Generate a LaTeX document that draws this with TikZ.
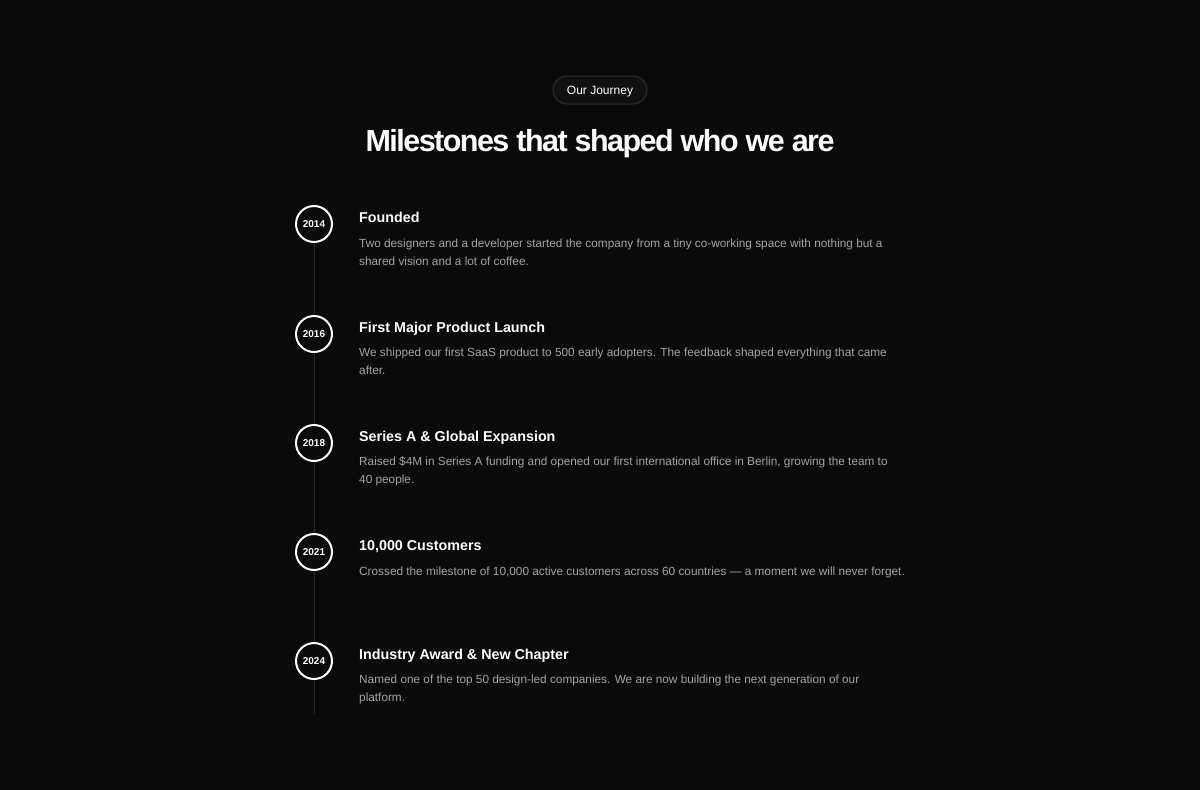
\documentclass[tikz,border=0pt]{standalone}
\usepackage{fontspec}
\setmainfont{Liberation Sans}
\definecolor{bg}{HTML}{0A0A0A}
\definecolor{pillfill}{HTML}{101010}
\definecolor{pillline}{HTML}{2A2A2A}
\definecolor{rail}{HTML}{2A2A2A}
\definecolor{desc}{HTML}{A3A3A3}
\tikzset{
  pill/.style={draw=pillline, fill=pillfill, line width=1pt, rounded corners=14pt, minimum width=94pt, minimum height=28pt, inner sep=0pt, text height=10pt, text depth=2pt, text=white, font=\fontsize{12}{14}\selectfont},
  yearnode/.style={circle, draw=white, line width=2pt, fill=bg, minimum size=36pt, inner sep=0pt, text=white, font=\bfseries\fontsize{10}{12}\selectfont},
  heading/.style={anchor=base west, inner sep=0pt, text=white, font=\bfseries\fontsize{14.3}{17}\selectfont},
  desctext/.style={anchor=base west, inner sep=0pt, text=desc, font=\fontsize{11.8}{14}\selectfont},
  railline/.style={draw=rail, line width=1pt},
}
\begin{document}
\begin{tikzpicture}[x=1pt,y=-1pt]
\fill[bg] (0,0) rectangle (1200,790);
\useasboundingbox (0,0) rectangle (1200,790);
\node[pill] (tag) at (600,90) {Our Journey};
\node[anchor=base, inner sep=0pt, text=white, font=\bfseries\fontsize{30.5}{36}\selectfont\addfontfeatures{LetterSpace=-5}] (title) at (600,151) {Milestones that shaped who we are};
\coordinate (railend) at (314,714);
\node[yearnode] (y1) at (314,224) {2014};
\node[yearnode] (y2) at (314,334) {2016};
\node[yearnode] (y3) at (314,443) {2018};
\node[yearnode] (y4) at (314,552) {2021};
\node[yearnode] (y5) at (314,661) {2024};
\draw[railline] (y1) -- (y2);
\draw[railline] (y2) -- (y3);
\draw[railline] (y3) -- (y4);
\draw[railline] (y4) -- (y5);
\draw[railline] (y5) -- (railend);
\node[heading] (h1) at (359,222) {Founded};
\node[desctext] (d1a) at (359,247) {Two designers and a developer started the company from a tiny co-working space with nothing but a};
\node[desctext] (d1b) at (359,265) {shared vision and a lot of coffee.};
\node[heading] (h2) at (359,332) {First Major Product Launch};
\node[desctext] (d2a) at (359,356) {We shipped our first SaaS product to 500 early adopters. The feedback shaped everything that came};
\node[desctext] (d2b) at (359,374) {after.};
\node[heading] (h3) at (359,441) {Series A \& Global Expansion};
\node[desctext] (d3a) at (359,465) {Raised \$4M in Series A funding and opened our first international office in Berlin, growing the team to};
\node[desctext] (d3b) at (359,483) {40 people.};
\node[heading] (h4) at (359,550) {10,000 Customers};
\node[desctext] (d4a) at (359,575) {Crossed the milestone of 10,000 active customers across 60 countries — a moment we will never forget.};
\node[heading] (h5) at (359,659) {Industry Award \& New Chapter};
\node[desctext] (d5a) at (359,683) {Named one of the top 50 design-led companies. We are now building the next generation of our};
\node[desctext] (d5b) at (359,701) {platform.};
\end{tikzpicture}
\end{document}
